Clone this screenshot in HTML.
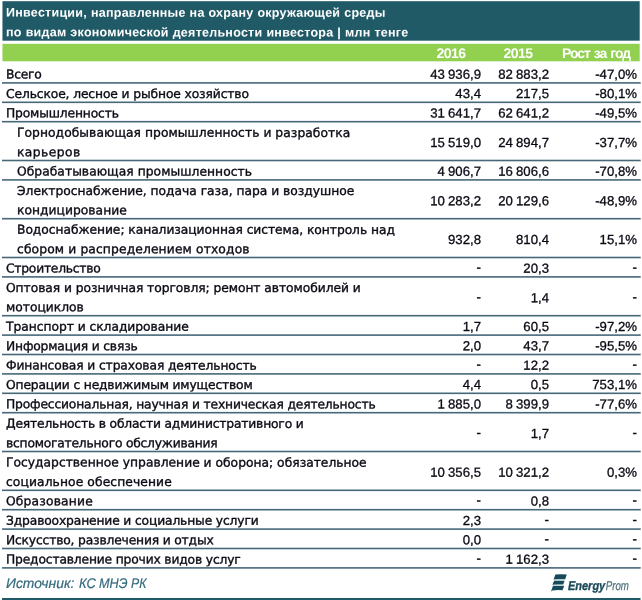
<!DOCTYPE html>
<html lang="ru"><head><meta charset="utf-8"><title>Инвестиции, направленные на охрану окружающей среды</title>
<style>
html,body{margin:0;padding:0;background:#fff}
#c{text-rendering:geometricPrecision;position:relative;width:642px;height:600px;overflow:hidden;background:#fff;font-family:"DejaVu Sans","Liberation Sans",sans-serif;color:#0a0a14}
#c div{position:absolute;white-space:nowrap}
#c svg{position:absolute;left:0;top:0}
.t{left:6.3px;letter-spacing:.26px;word-spacing:.2px;transform-origin:190px 10px;color:#fff;font-family:"Liberation Sans",sans-serif;font-weight:bold;font-size:12.5px;line-height:20px;height:20px}
.ch{color:#fff;font-family:"Liberation Sans",sans-serif;font-weight:bold;font-size:14px;line-height:20px;height:20px;text-align:center;width:100px}
.l{transform-origin:120px 10px;font-size:12.3px;line-height:20px;height:20px;-webkit-text-stroke:0.35px #0a0a14}
.n{transform-origin:70px 10px;font-family:"Liberation Sans",sans-serif;font-size:13.2px;line-height:20px;height:20px;text-align:right;width:90px;word-spacing:-0.5px;-webkit-text-stroke:0.3px #0a0a14}
.src{transform-origin:0 0;font-family:"Liberation Sans",sans-serif;font-style:italic;font-size:14px;line-height:20px;color:#336a7d;-webkit-text-stroke:.2px #336a7d}
</style></head><body>
<div id="c">
<svg width="642" height="600" viewBox="0 0 642 600">
<rect x="2.45" y="1.2" width="637.25" height="39.5" fill="#215a67"/>
<rect x="2.45" y="43.8" width="637.25" height="17.5" fill="#92d050"/>
<g fill="#466879">
<rect x="2" y="82.10" width="638.7" height="1.6"/>
<rect x="2" y="101.50" width="638.7" height="1.6"/>
<rect x="2" y="120.90" width="638.7" height="1.6"/>
<rect x="2" y="159.70" width="638.7" height="1.6"/>
<rect x="2" y="179.10" width="638.7" height="1.6"/>
<rect x="2" y="217.90" width="638.7" height="1.6"/>
<rect x="2" y="256.70" width="638.7" height="1.6"/>
<rect x="2" y="276.10" width="638.7" height="1.6"/>
<rect x="2" y="314.90" width="638.7" height="1.6"/>
<rect x="2" y="334.30" width="638.7" height="1.6"/>
<rect x="2" y="353.70" width="638.7" height="1.6"/>
<rect x="2" y="373.10" width="638.7" height="1.6"/>
<rect x="2" y="392.50" width="638.7" height="1.6"/>
<rect x="2" y="411.90" width="638.7" height="1.6"/>
<rect x="2" y="450.70" width="638.7" height="1.6"/>
<rect x="2" y="489.50" width="638.7" height="1.6"/>
<rect x="2" y="508.90" width="638.7" height="1.6"/>
<rect x="2" y="528.30" width="638.7" height="1.6"/>
<rect x="2" y="547.70" width="638.7" height="1.6"/>
<rect x="2" y="567.10" width="638.7" height="1.6"/>
</g>
<rect x="2" y="598" width="638.5" height="2" fill="#215a67"/>
</svg>
<div class="t" style="top:2px;transform:translateY(0.70px) rotate(.03deg)">Инвестиции, направленные на охрану окружающей среды</div>
<div class="t" style="top:22px;transform:translateY(0.40px) rotate(.03deg)">по видам экономической деятельности инвестора | млн тенге</div>
<div class="ch" style="left:400.5px;top:43px;transform:translateY(0.00px) rotate(.03deg);letter-spacing:-0.55px;word-spacing:0px">2016</div>
<div class="ch" style="left:468.29999999999995px;top:43px;transform:translateY(0.00px) rotate(.03deg);letter-spacing:-0.55px;word-spacing:0px">2015</div>
<div class="ch" style="left:545.7px;top:43px;transform:translateY(0.00px) rotate(.03deg);letter-spacing:-1.05px;word-spacing:1.2px">Рост за год</div>
<div class="l" style="left:6.2px;top:64px;transform:translateY(0.60px) rotate(.03deg);letter-spacing:-0.239px">Всего</div>
<div class="n" style="left:391.00px;top:64px;transform:translateY(0.70px) rotate(.03deg)">43 936,9</div>
<div class="n" style="left:458.80px;top:64px;transform:translateY(0.70px) rotate(.03deg)">82 883,2</div>
<div class="n" style="left:547.00px;top:64px;transform:translateY(0.70px) rotate(.03deg)">-47,0%</div>
<div class="l" style="left:6.2px;top:84px;transform:translateY(0.00px) rotate(.03deg);letter-spacing:-0.118px">Сельское, лесное и рыбное хозяйство</div>
<div class="n" style="left:391.00px;top:84px;transform:translateY(0.10px) rotate(.03deg)">43,4</div>
<div class="n" style="left:458.80px;top:84px;transform:translateY(0.10px) rotate(.03deg)">217,5</div>
<div class="n" style="left:547.00px;top:84px;transform:translateY(0.10px) rotate(.03deg)">-80,1%</div>
<div class="l" style="left:6.2px;top:103px;transform:translateY(0.40px) rotate(.03deg);letter-spacing:-0.158px">Промышленность</div>
<div class="n" style="left:391.00px;top:103px;transform:translateY(0.50px) rotate(.03deg)">31 641,7</div>
<div class="n" style="left:458.80px;top:103px;transform:translateY(0.50px) rotate(.03deg)">62 641,2</div>
<div class="n" style="left:547.00px;top:103px;transform:translateY(0.50px) rotate(.03deg)">-49,5%</div>
<div class="l" style="left:17.2px;top:122px;transform:translateY(0.80px) rotate(.03deg);letter-spacing:0.045px">Горнодобывающая промышленность и разработка</div>
<div class="l" style="left:17.2px;top:142px;transform:translateY(0.20px) rotate(.03deg);letter-spacing:0.445px">карьеров</div>
<div class="n" style="left:391.00px;top:133px;transform:translateY(0.00px) rotate(.03deg)">15 519,0</div>
<div class="n" style="left:458.80px;top:133px;transform:translateY(0.00px) rotate(.03deg)">24 894,7</div>
<div class="n" style="left:547.00px;top:133px;transform:translateY(0.00px) rotate(.03deg)">-37,7%</div>
<div class="l" style="left:17.2px;top:161px;transform:translateY(0.60px) rotate(.03deg);letter-spacing:0.035px">Обрабатывающая промышленность</div>
<div class="n" style="left:391.00px;top:161px;transform:translateY(0.70px) rotate(.03deg)">4 906,7</div>
<div class="n" style="left:458.80px;top:161px;transform:translateY(0.70px) rotate(.03deg)">16 806,6</div>
<div class="n" style="left:547.00px;top:161px;transform:translateY(0.70px) rotate(.03deg)">-70,8%</div>
<div class="l" style="left:17.2px;top:181px;transform:translateY(0.00px) rotate(.03deg);letter-spacing:-0.022px">Электроснабжение, подача газа, пара и воздушное</div>
<div class="l" style="left:17.2px;top:200px;transform:translateY(0.40px) rotate(.03deg);letter-spacing:0.016px">кондицирование</div>
<div class="n" style="left:391.00px;top:191px;transform:translateY(0.20px) rotate(.03deg)">10 283,2</div>
<div class="n" style="left:458.80px;top:191px;transform:translateY(0.20px) rotate(.03deg)">20 129,6</div>
<div class="n" style="left:547.00px;top:191px;transform:translateY(0.20px) rotate(.03deg)">-48,9%</div>
<div class="l" style="left:17.2px;top:219px;transform:translateY(0.80px) rotate(.03deg);letter-spacing:-0.059px">Водоснабжение; канализационная система, контроль над</div>
<div class="l" style="left:17.2px;top:239px;transform:translateY(0.20px) rotate(.03deg);letter-spacing:0.123px">сбором и распределением отходов</div>
<div class="n" style="left:391.00px;top:230px;transform:translateY(0.00px) rotate(.03deg)">932,8</div>
<div class="n" style="left:458.80px;top:230px;transform:translateY(0.00px) rotate(.03deg)">810,4</div>
<div class="n" style="left:547.00px;top:230px;transform:translateY(0.00px) rotate(.03deg)">15,1%</div>
<div class="l" style="left:6.2px;top:258px;transform:translateY(0.60px) rotate(.03deg);letter-spacing:-0.236px">Строительство</div>
<div class="n" style="left:391.00px;top:257px;transform:translateY(0.70px) rotate(.03deg)">-</div>
<div class="n" style="left:458.80px;top:258px;transform:translateY(0.70px) rotate(.03deg)">20,3</div>
<div class="n" style="left:547.00px;top:257px;transform:translateY(0.70px) rotate(.03deg)">-</div>
<div class="l" style="left:6.2px;top:277px;transform:translateY(1.00px) rotate(.03deg);letter-spacing:-0.066px">Оптовая и розничная торговля; ремонт автомобилей и</div>
<div class="l" style="left:6.2px;top:297px;transform:translateY(0.40px) rotate(.03deg);letter-spacing:-0.015px">мотоциклов</div>
<div class="n" style="left:391.00px;top:287px;transform:translateY(0.20px) rotate(.03deg)">-</div>
<div class="n" style="left:458.80px;top:288px;transform:translateY(0.20px) rotate(.03deg)">1,4</div>
<div class="n" style="left:547.00px;top:287px;transform:translateY(0.20px) rotate(.03deg)">-</div>
<div class="l" style="left:6.2px;top:316px;transform:translateY(0.80px) rotate(.03deg);letter-spacing:-0.043px">Транспорт и складирование</div>
<div class="n" style="left:391.00px;top:316px;transform:translateY(0.90px) rotate(.03deg)">1,7</div>
<div class="n" style="left:458.80px;top:316px;transform:translateY(0.90px) rotate(.03deg)">60,5</div>
<div class="n" style="left:547.00px;top:316px;transform:translateY(0.90px) rotate(.03deg)">-97,2%</div>
<div class="l" style="left:6.2px;top:336px;transform:translateY(0.20px) rotate(.03deg);letter-spacing:-0.170px">Информация и связь</div>
<div class="n" style="left:391.00px;top:336px;transform:translateY(0.30px) rotate(.03deg)">2,0</div>
<div class="n" style="left:458.80px;top:336px;transform:translateY(0.30px) rotate(.03deg)">43,7</div>
<div class="n" style="left:547.00px;top:336px;transform:translateY(0.30px) rotate(.03deg)">-95,5%</div>
<div class="l" style="left:6.2px;top:355px;transform:translateY(0.60px) rotate(.03deg);letter-spacing:-0.116px">Финансовая и страховая деятельность</div>
<div class="n" style="left:391.00px;top:354px;transform:translateY(0.70px) rotate(.03deg)">-</div>
<div class="n" style="left:458.80px;top:355px;transform:translateY(0.70px) rotate(.03deg)">12,2</div>
<div class="n" style="left:547.00px;top:354px;transform:translateY(0.70px) rotate(.03deg)">-</div>
<div class="l" style="left:6.2px;top:374px;transform:translateY(1.00px) rotate(.03deg);letter-spacing:-0.164px">Операции с недвижимым имуществом</div>
<div class="n" style="left:391.00px;top:375px;transform:translateY(0.10px) rotate(.03deg)">4,4</div>
<div class="n" style="left:458.80px;top:375px;transform:translateY(0.10px) rotate(.03deg)">0,5</div>
<div class="n" style="left:547.00px;top:375px;transform:translateY(0.10px) rotate(.03deg)">753,1%</div>
<div class="l" style="left:6.2px;top:394px;transform:translateY(0.40px) rotate(.03deg);letter-spacing:-0.163px">Профессиональная, научная и техническая деятельность</div>
<div class="n" style="left:391.00px;top:394px;transform:translateY(0.50px) rotate(.03deg)">1 885,0</div>
<div class="n" style="left:458.80px;top:394px;transform:translateY(0.50px) rotate(.03deg)">8 399,9</div>
<div class="n" style="left:547.00px;top:394px;transform:translateY(0.50px) rotate(.03deg)">-77,6%</div>
<div class="l" style="left:6.2px;top:413px;transform:translateY(0.80px) rotate(.03deg);letter-spacing:-0.177px">Деятельность в области административного и</div>
<div class="l" style="left:6.2px;top:433px;transform:translateY(0.20px) rotate(.03deg);letter-spacing:-0.222px">вспомогательного обслуживания</div>
<div class="n" style="left:391.00px;top:423px;transform:translateY(0.00px) rotate(.03deg)">-</div>
<div class="n" style="left:458.80px;top:424px;transform:translateY(0.00px) rotate(.03deg)">1,7</div>
<div class="n" style="left:547.00px;top:423px;transform:translateY(0.00px) rotate(.03deg)">-</div>
<div class="l" style="left:6.2px;top:452px;transform:translateY(0.60px) rotate(.03deg);letter-spacing:0.002px">Государственное управление и оборона; обязательное</div>
<div class="l" style="left:6.2px;top:471px;transform:translateY(1.00px) rotate(.03deg);letter-spacing:0.093px">социальное обеспечение</div>
<div class="n" style="left:391.00px;top:462px;transform:translateY(0.80px) rotate(.03deg)">10 356,5</div>
<div class="n" style="left:458.80px;top:462px;transform:translateY(0.80px) rotate(.03deg)">10 321,2</div>
<div class="n" style="left:547.00px;top:462px;transform:translateY(0.80px) rotate(.03deg)">0,3%</div>
<div class="l" style="left:6.2px;top:491px;transform:translateY(0.40px) rotate(.03deg);letter-spacing:0.172px">Образование</div>
<div class="n" style="left:391.00px;top:490px;transform:translateY(0.50px) rotate(.03deg)">-</div>
<div class="n" style="left:458.80px;top:491px;transform:translateY(0.50px) rotate(.03deg)">0,8</div>
<div class="n" style="left:547.00px;top:490px;transform:translateY(0.50px) rotate(.03deg)">-</div>
<div class="l" style="left:6.2px;top:510px;transform:translateY(0.80px) rotate(.03deg);letter-spacing:-0.149px">Здравоохранение и социальные услуги</div>
<div class="n" style="left:391.00px;top:510px;transform:translateY(0.90px) rotate(.03deg)">2,3</div>
<div class="n" style="left:458.80px;top:509px;transform:translateY(0.90px) rotate(.03deg)">-</div>
<div class="n" style="left:547.00px;top:509px;transform:translateY(0.90px) rotate(.03deg)">-</div>
<div class="l" style="left:6.2px;top:530px;transform:translateY(0.20px) rotate(.03deg);letter-spacing:-0.172px">Искусство, развлечения и отдых</div>
<div class="n" style="left:391.00px;top:530px;transform:translateY(0.30px) rotate(.03deg)">0,0</div>
<div class="n" style="left:458.80px;top:529px;transform:translateY(0.30px) rotate(.03deg)">-</div>
<div class="n" style="left:547.00px;top:529px;transform:translateY(0.30px) rotate(.03deg)">-</div>
<div class="l" style="left:6.2px;top:549px;transform:translateY(0.60px) rotate(.03deg);letter-spacing:-0.169px">Предоставление прочих видов услуг</div>
<div class="n" style="left:391.00px;top:548px;transform:translateY(0.70px) rotate(.03deg)">-</div>
<div class="n" style="left:458.80px;top:549px;transform:translateY(0.70px) rotate(.03deg)">1 162,3</div>
<div class="n" style="left:547.00px;top:548px;transform:translateY(0.70px) rotate(.03deg)">-</div>
<div class="src" style="left:6.0px;top:573px;transform:translateY(0.00px) rotate(.03deg) scaleX(0.991)">Источник:</div>
<div class="src" style="left:78.8px;top:573px;transform:translateY(0.00px) rotate(.03deg) scaleX(0.922)">КС</div>
<div class="src" style="left:99.2px;top:573px;transform:translateY(0.00px) rotate(.03deg) scaleX(0.905)">МНЭ</div>
<div class="src" style="left:130.5px;top:573px;transform:translateY(0.00px) rotate(.03deg) scaleX(0.875)">РК</div>
<svg width="642" height="600" viewBox="0 0 642 600" style="pointer-events:none">
<g fill="#17495a">
<path d="M555.4 574.6 Q561 574.1 566.8 574.6 L565.2 579.2 Q559.5 578.8 553.6 579.4 Z"/>
<path d="M554.0 580.9 Q559 580.5 564.5 580.9 L563.2 584.6 Q558 584.3 552.4 584.8 Z"/>
<path d="M552.9 586.1 Q558.5 585.7 564.2 586.1 L562.5 590.2 Q557 589.9 552.2 590.4 L550.9 591.8 Z"/>
</g>
<g fill="#8fb0b6" opacity=".55">
<path d="M553.6 579.4 Q559.5 578.8 565.2 579.2 L564.5 580.9 Q559 580.5 554.0 580.9 Z"/>
<path d="M552.4 584.8 Q558 584.3 563.2 584.6 L564.2 586.1 Q558.5 585.7 552.9 586.1 Z"/>
</g>
<text x="568.0" y="589.7" font-family="Liberation Sans, sans-serif" font-style="italic" font-weight="bold" font-size="12.8" fill="#1d4b5c" stroke="#1d4b5c" stroke-width=".35" textLength="37.2" lengthAdjust="spacingAndGlyphs">Energy</text>
<text x="605.7" y="589.7" font-family="Liberation Sans, sans-serif" font-style="italic" font-size="12.8" fill="#4f707d" stroke="#4f707d" stroke-width=".25" textLength="23.2" lengthAdjust="spacingAndGlyphs">Prom</text>
</svg>
</div>
</body></html>
